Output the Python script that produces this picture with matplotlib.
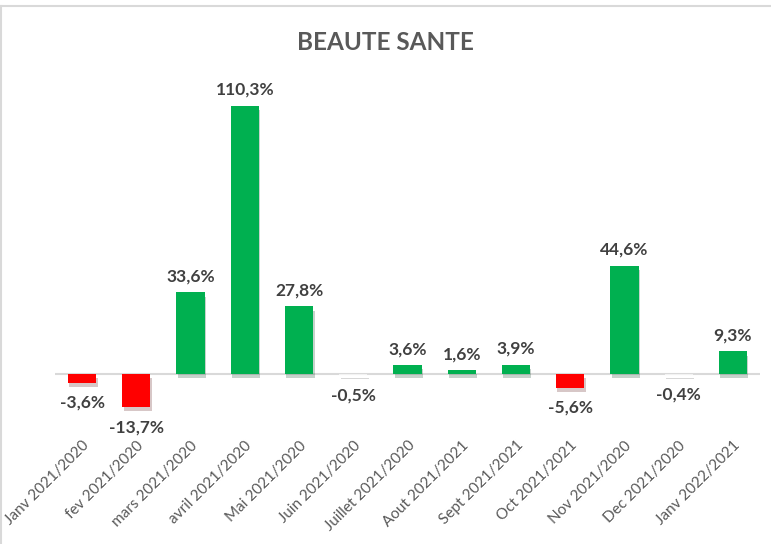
import matplotlib.pyplot as plt
import matplotlib.patheffects as pe
from matplotlib.lines import Line2D

# Monthly change, BEAUTE SANTE
months = ["Janv 2021/2020", "fev 2021/2020", "mars 2021/2020", "avril 2021/2020",
          "Mai 2021/2020", "Juin 2021/2020", "Juillet 2021/2020", "Aout 2021/2021",
          "Sept 2021/2021", "Oct 2021/2021", "Nov 2021/2020", "Dec 2021/2020",
          "Janv 2022/2021"]
values = [-3.6, -13.7, 33.6, 110.3, 27.8, -0.5, 3.6, 1.6, 3.9, -5.6, 44.6, -0.4, 9.3]

plt.rcParams['font.family'] = ['Lato', 'DejaVu Sans']

W, H = 771, 544
fig = plt.figure(figsize=(W / 100, H / 100), dpi=100)

# axes placed in pixel units: x 55..760, y 90..430 (from top)
ax = fig.add_axes([55 / W, 1 - 430 / H, 705 / W, 340 / H])

def bar_color(v):
    if v > 0:
        return "#00B050"
    if v > -1:
        return "#F2F2F2"
    return "#FF0000"

x = list(range(len(values)))
bars = ax.bar(x, values, width=0.52, color=[bar_color(v) for v in values], zorder=2)
for b in bars:
    b.set_path_effects([pe.SimplePatchShadow(offset=(1, -3), alpha=0.22), pe.Normal()])

ax.axhline(0, color="#D9D9D9", linewidth=1.5, zorder=1)

scale = 2.43  # pixels per percent
ax.set_ylim(-(430 - 374) / scale, (374 - 90) / scale)
ax.set_xlim(-0.5, len(values) - 0.5)

for xi, v in zip(x, values):
    txt = f"{v:.1f}%".replace(".", ",")
    if v >= 0:
        ax.annotate(txt, (xi, v), xytext=(0, 8), textcoords="offset pixels",
                    ha="center", va="bottom", fontsize=12.5, fontweight="bold", color="#404040")
    else:
        ax.annotate(txt, (xi, v), xytext=(0, -12), textcoords="offset pixels",
                    ha="center", va="top", fontsize=12.5, fontweight="bold", color="#404040")

ax.set_xticks(x)
ax.set_xticklabels(months, rotation=45, ha="right", rotation_mode="anchor",
                   fontsize=11, color="#595959")
ax.tick_params(axis="x", length=0, pad=6)
ax.set_yticks([])
for s in ax.spines.values():
    s.set_visible(False)

fig.text(385 / W, 1 - 42 / H, "BEAUTE SANTE", ha="center", va="center",
         fontsize=17.5, fontweight="bold", color="#595959")

# light frame at top and left of the chart area
fig.add_artist(Line2D([0, 1], [1 - 6 / H, 1 - 6 / H], transform=fig.transFigure,
                      color="#D9D9D9", linewidth=1.5))
fig.add_artist(Line2D([1 / W, 1 / W], [0, 1 - 6 / H], transform=fig.transFigure,
                      color="#D9D9D9", linewidth=1.5))

fig.savefig("out.png", dpi=100)
